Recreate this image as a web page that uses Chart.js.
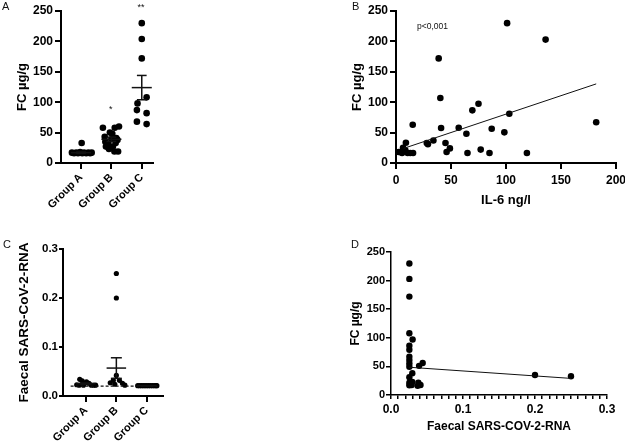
<!DOCTYPE html>
<html>
<head>
<meta charset="utf-8">
<script src="https://cdn.jsdelivr.net/npm/chart.js@4.4.1/dist/chart.umd.min.js"></script>
<style>
  html, body { margin: 0; padding: 0; background: #fff; width: 625px; height: 442px; overflow: hidden; }
  canvas { position: absolute; }
  .lbl { position: absolute; font-family: "Liberation Sans", Arial, sans-serif; color: #111; line-height: 1; white-space: nowrap; }
</style>
</head>
<body>
<canvas id="chartA" style="left:0px;top:0px" width="175" height="225"></canvas>
<canvas id="chartB" style="left:330px;top:0px" width="310" height="225"></canvas>
<canvas id="chartC" style="left:0px;top:225px" width="175" height="217"></canvas>
<canvas id="chartD" style="left:330px;top:225px" width="300" height="217"></canvas>

<div class="lbl" style="left:2px;top:1px;font-size:11px">A</div>
<div class="lbl" style="left:352px;top:1px;font-size:11px">B</div>
<div class="lbl" style="left:3px;top:239px;font-size:11px">C</div>
<div class="lbl" style="left:351px;top:239px;font-size:11px">D</div>
<div class="lbl" style="left:417px;top:22px;font-size:8.5px">p&lt;0,001</div>
<div class="lbl" style="left:109px;top:105px;font-size:9px">*</div>
<div class="lbl" style="left:137.5px;top:3px;font-size:9px">**</div>

<script>
// ---- data ----
const groups = ["Group A", "Group B", "Group C"];
const fcTicks = [0, 50, 100, 150, 200, 250];
const il6Ticks = [0, 50, 100, 150, 200];
const rnaTicks = [0.0, 0.1, 0.2, 0.3];

// A: FC per group (x = group position incl. scatter spread)
const fcA = [33, 17, 16, 17, 16, 18, 16, 17, 16, 17, 16, 17];
const fcAX = [1.02, 0.7, 0.77, 0.84, 0.9, 0.97, 1.04, 1.1, 1.17, 1.24, 1.3, 1.35];
const fcB = [58, 58, 60, 50, 48, 43, 41, 39, 35, 33, 31, 27, 27, 23, 19, 19, 38];
const fcBX = [1.72, 2.11, 2.25, 1.95, 2.03, 1.78, 2.16, 2.0, 1.8, 2.14, 1.9, 1.82, 2.05, 1.92, 2.22, 2.1, 2.2];
const fcC = [230, 204, 172, 108, 98, 87, 82, 68, 64];
const fcCX = [3.0, 3.0, 3.0, 3.16, 2.86, 2.84, 3.16, 2.84, 3.16];
const fcMean = [17, 39, 124];
const fcSem = [1.2, 3.5, 20];

// B: FC vs IL-6
const il6 = [101, 136, 38.8, 40.3, 75, 69.4, 103, 182, 15.2, 41, 57, 87, 64, 98.5, 28, 29, 34, 9, 45, 49, 46, 77, 65, 85, 119, 2.4, 5.5, 8.5, 10.6, 13, 15.5, 6.4, 4];
const fcIl6 = [230, 203, 172, 107, 97.5, 86.6, 81, 67, 63, 57.5, 58, 56.4, 48, 50.4, 33, 31, 37, 33.4, 33, 24, 18, 22, 16.4, 16.4, 16.4, 18, 16.4, 20.8, 16.4, 16.4, 16.4, 25, 18];
const il6Fit = [0.606, 19.8];      // slope, intercept
const il6FitRange = [7, 182];

// C: faecal RNA per group
const rnaA = [0.034, 0.031, 0.029, 0.026, 0.023, 0.022, 0.022, 0.022, 0.022, 0.022];
const rnaAX = [0.8, 0.88, 1.02, 1.1, 0.7, 0.92, 1.18, 1.26, 1.32, 0.78];
const rnaB = [0.25, 0.2, 0.042, 0.032, 0.032, 0.027, 0.026, 0.024, 0.022];
const rnaBX = [2, 2, 2, 1.9, 2.1, 1.8, 2.2, 1.95, 2.28];
const rnaC = [0.021, 0.021, 0.021, 0.021, 0.021, 0.021, 0.021, 0.021, 0.021, 0.021, 0.021, 0.021];
const rnaCX = [2.7, 2.76, 2.82, 2.88, 2.94, 3.0, 3.06, 3.12, 3.18, 3.24, 3.3, 3.33];
const rnaMean = [0.025, 0.057, 0.021];
const rnaSem = [0.0015, 0.021, 0.0003];
const rnaCutoff = 0.02;
const rnaCutoffRange = [0.5, 3.35];

// D: FC vs faecal RNA
const rnaX = [0.0255, 0.0255, 0.0255, 0.0255, 0.0255, 0.0255, 0.0255, 0.0255, 0.0255, 0.0255, 0.0255, 0.0255, 0.0255,
              0.030, 0.044, 0.039, 0.0296, 0.0296, 0.038, 0.0287, 0.037, 0.041, 0.2, 0.25];
const fcRna = [230, 203, 172, 108, 86, 79, 67, 61, 55, 49.5, 31, 21.5, 17,
               97, 56, 51, 38, 23, 21.5, 17.5, 16, 17.5, 35, 32.7];
const rnaFit = [-86.7, 50.7];
const rnaFitRange = [0.025, 0.25];

// ---- helpers ----
Chart.defaults.font.family = '"Liberation Sans", Arial, sans-serif';
Chart.defaults.color = '#000';
Chart.defaults.animation = false;
Chart.defaults.plugins.legend.display = false;
Chart.defaults.plugins.tooltip.enabled = false;

function dots(xs, ys, r) {
  return {
    data: xs.map((x, i) => ({ x: x, y: ys[i] })),
    pointRadius: r, pointHoverRadius: r,
    backgroundColor: '#000', borderWidth: 0, clip: false
  };
}

function seg(x1, y1, x2, y2, w, dash) {
  return {
    data: [{ x: x1, y: y1 }, { x: x2, y: y2 }],
    showLine: true, borderColor: '#111', borderWidth: w, borderDash: dash || [],
    pointRadius: 0, pointHoverRadius: 0, clip: false
  };
}

function errorBars(means, sems, hw, cw, w) {
  const out = [];
  means.forEach((m, i) => {
    const g = i + 1, s = sems[i];
    out.push(seg(g - hw, m, g + hw, m, w));
    out.push(seg(g, m - s, g, m + s, w));
    out.push(seg(g - cw, m + s, g + cw, m + s, w));
    out.push(seg(g - cw, m - s, g + cw, m - s, w));
  });
  return out;
}

function fitLine(fit, range) {
  return seg(range[0], fit[0] * range[0] + fit[1], range[1], fit[0] * range[1] + fit[1], 1);
}

function axis(o) {
  return {
    type: 'linear', min: o.min, max: o.max,
    border: { display: true, color: '#000', width: o.lw },
    grid: { display: true, drawOnChartArea: false, drawTicks: true, tickLength: o.tl, color: '#000', lineWidth: o.lw },
    ticks: {
      color: '#000', font: { size: o.fs, weight: 'bold' }, padding: o.pad, autoSkip: false,
      minRotation: o.rot || 0, maxRotation: o.rot || 0, callback: o.cb
    },
    title: o.title ? { display: true, text: o.title, color: '#000', font: { size: o.tfs, weight: 'bold' }, padding: o.tpad } : { display: false },
    afterBuildTicks: s => { s.ticks = o.ticksAt.map(v => ({ value: v })); },
    afterFit: s => { if (s.isHorizontal()) s.height = o.size; else s.width = o.size; }
  };
}

const groupLabel = v => groups[Math.round(v) - 1];
const plain = v => v;
const oneDec = v => v.toFixed(1);

// A
new Chart(document.getElementById('chartA'), {
  type: 'scatter',
  data: { datasets: [...errorBars(fcMean, fcSem, 0.33, 0.16, 1.5), dots(fcAX, fcA, 3.3), dots(fcBX, fcB, 3.3), dots(fcCX, fcC, 3.3)] },
  options: {
    responsive: false, devicePixelRatio: 1,
    layout: { padding: { left: 0, top: 11, right: 22, bottom: 0 } },
    scales: {
      x: axis({ min: 0.34, max: 3.37, lw: 2, tl: 6, fs: 11, pad: 2, rot: 45, ticksAt: [1, 2, 3], cb: groupLabel, size: 62 }),
      y: axis({ min: 0, max: 250, lw: 2, tl: 6, fs: 12, pad: 2, ticksAt: fcTicks, cb: plain, size: 61,
                title: 'FC µg/g', tfs: 13, tpad: { top: 15, bottom: 0 } })
    }
  }
});

// B
new Chart(document.getElementById('chartB'), {
  type: 'scatter',
  data: { datasets: [fitLine(il6Fit, il6FitRange), dots(il6, fcIl6, 3.3)] },
  options: {
    responsive: false, devicePixelRatio: 1,
    layout: { padding: { left: 0, top: 11, right: 24, bottom: 0 } },
    scales: {
      x: axis({ min: 0, max: 200, lw: 2, tl: 6, fs: 12, pad: 4, ticksAt: il6Ticks, cb: plain, size: 62,
                title: 'IL-6 ng/l', tfs: 13, tpad: { top: 0, bottom: 17 } }),
      y: axis({ min: 0, max: 250, lw: 2, tl: 6, fs: 12, pad: 2, ticksAt: fcTicks, cb: plain, size: 66,
                title: 'FC µg/g', tfs: 13, tpad: { top: 20, bottom: 0 } })
    }
  }
});

// C
new Chart(document.getElementById('chartC'), {
  type: 'scatter',
  data: {
    datasets: [
      seg(rnaCutoffRange[0], rnaCutoff, rnaCutoffRange[1], rnaCutoff, 1.3, [3, 2]),
      ...errorBars(rnaMean, rnaSem, 0.32, 0.18, 1.5),
      dots(rnaAX, rnaA, 2.6), dots(rnaBX, rnaB, 2.6), dots(rnaCX, rnaC, 2.6)
    ]
  },
  options: {
    responsive: false, devicePixelRatio: 1,
    layout: { padding: { left: 0, top: 24, right: 12, bottom: 0 } },
    scales: {
      x: axis({ min: 0.25, max: 3.53, lw: 2, tl: 6, fs: 11, pad: 2, rot: 45, ticksAt: [1, 2, 3], cb: groupLabel, size: 46 }),
      y: axis({ min: 0, max: 0.3, lw: 2, tl: 4, fs: 11.5, pad: 1, ticksAt: rnaTicks, cb: oneDec, size: 63,
                title: 'Faecal SARS-CoV-2-RNA', tfs: 13.5, tpad: { top: 16, bottom: 0 } })
    }
  }
});

// D
const rnaMinor = [];
for (let i = 0; i <= 30; i++) rnaMinor.push(i / 100);
new Chart(document.getElementById('chartD'), {
  type: 'scatter',
  data: { datasets: [fitLine(rnaFit, rnaFitRange), dots(rnaX, fcRna, 3.2)] },
  options: {
    responsive: false, devicePixelRatio: 1,
    layout: { padding: { left: 0, top: 27, right: 23, bottom: 0 } },
    scales: {
      x: axis({ min: 0, max: 0.3, lw: 1.5, tl: 4, fs: 12, pad: 3, ticksAt: rnaMinor, size: 47,
                cb: v => rnaTicks.some(t => Math.abs(t - v) < 1e-9) ? v.toFixed(1) : '',
                title: 'Faecal SARS-COV-2-RNA', tfs: 12, tpad: { top: 0, bottom: 8 } }),
      y: axis({ min: 0, max: 250, lw: 1.5, tl: 5, fs: 11, pad: 1, ticksAt: fcTicks, cb: plain, size: 61,
                title: 'FC µg/g', tfs: 12, tpad: { top: 18, bottom: 0 } })
    }
  }
});
</script>
</body>
</html>
